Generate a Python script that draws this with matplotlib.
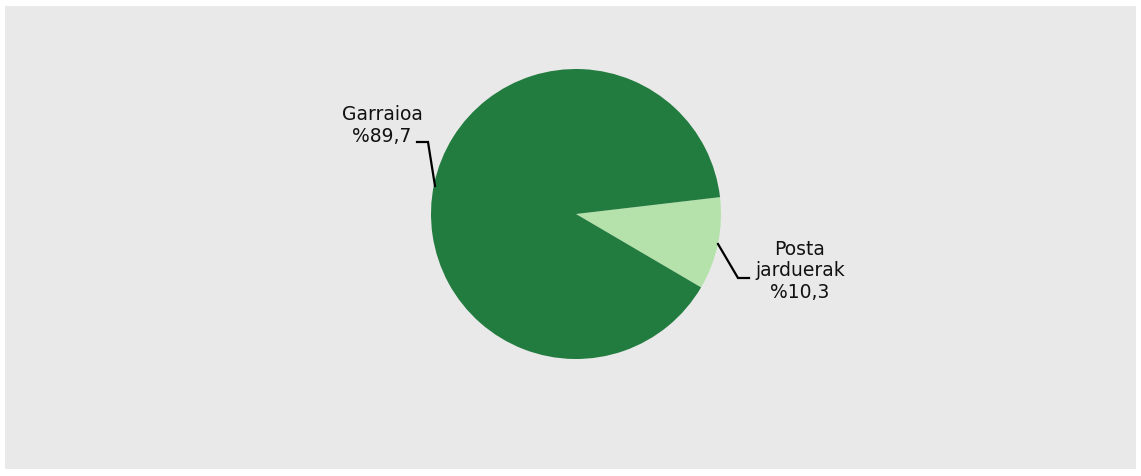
import matplotlib.pyplot as plt
from matplotlib.patches import Rectangle

# Shares of the two activities (percent)
labels = ["Posta\njarduerak", "Garraioa"]
values = [10.3, 89.7]
value_texts = ["%10,3", "%89,7"]
colors = ["#b4e2aa", "#227c3f"]

W, H = 1141, 477
fig = plt.figure(figsize=(W / 100, H / 100), dpi=100)
fig.patch.set_facecolor("white")
ax = fig.add_axes([0, 0, 1, 1])

# grey panel
ax.add_patch(Rectangle((5, H - 470), 1131, 463, facecolor="#e9e9e9",
                       edgecolor="none", zorder=0))

cx, cy, r = 576, H - 215, 145
ax.pie(values, colors=colors, startangle=-30.4, counterclock=True,
       center=(cx, cy), radius=r, frame=True,
       wedgeprops=dict(linewidth=0))
ax.set_xlim(0, W)
ax.set_ylim(0, H)
ax.set_aspect("equal")
ax.axis("off")

font = dict(family="DejaVu Sans", fontsize=13.5, color="#111111")

# Garraioa label with leader line
ax.plot([435, 428, 417], [H - 187, H - 143, H - 143], color="black", lw=1.6,
        solid_joinstyle="miter")
ax.text(382, H - 125, labels[1] + "\n" + value_texts[1], ha="center",
        va="center", linespacing=1.2, **font)

# Posta jarduerak label with leader line
ax.plot([718, 738, 749], [H - 245, H - 279, H - 279], color="black", lw=1.6,
        solid_joinstyle="miter")
ax.text(800, H - 271, labels[0] + "\n" + value_texts[0], ha="center",
        va="center", linespacing=1.15, **font)

fig.savefig("out.png", dpi=100)
